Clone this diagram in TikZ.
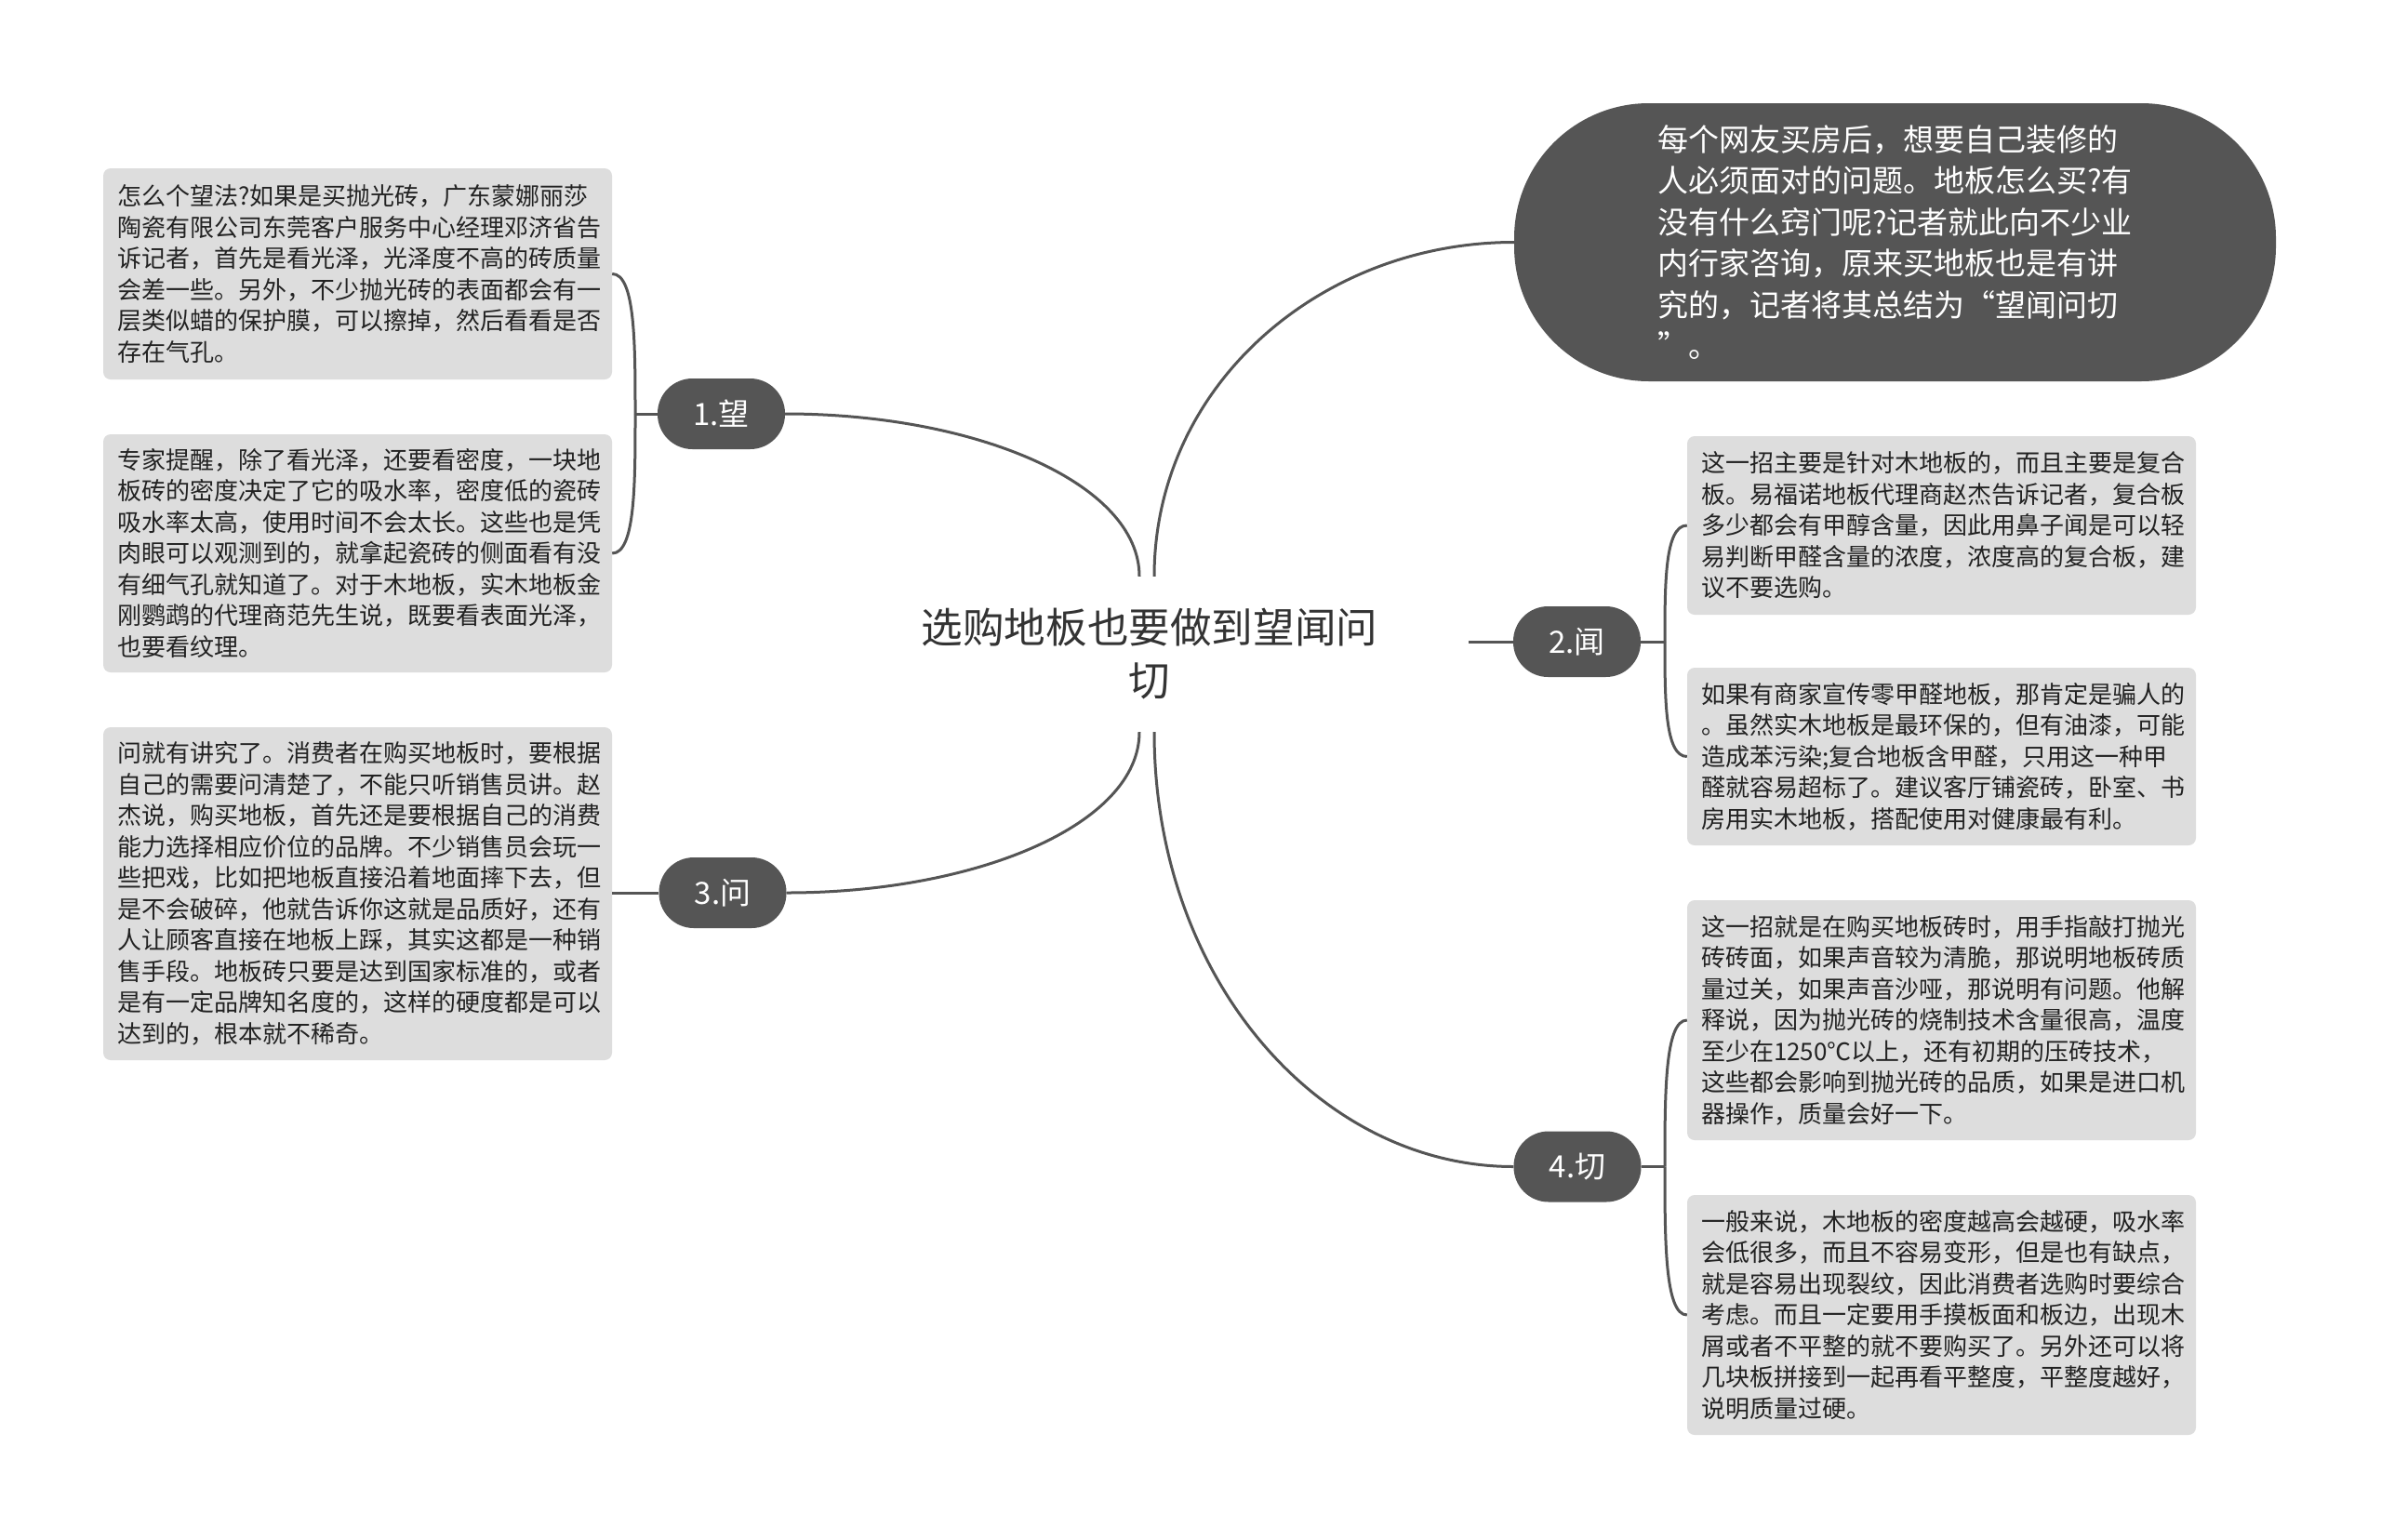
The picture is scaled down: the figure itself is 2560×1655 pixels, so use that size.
\documentclass[tikz,border=0pt]{standalone}
\usepackage{fontspec}
\setmainfont{Noto Sans CJK SC}
\definecolor{darkfill}{HTML}{555555}
\definecolor{leafgray}{HTML}{DDDDDD}
\definecolor{linegray}{HTML}{555555}
\definecolor{titletext}{HTML}{333333}
\definecolor{leaftext}{HTML}{222222}
\tikzset{
  leafbox/.style={fill=leafgray, rounded corners=8pt, inner xsep=15pt, inner ysep=0pt,
    text width=517pt, minimum width=547pt, align=left, text=leaftext,
    font=\fontsize{26}{33.5}\selectfont},
  topicbox/.style={fill=darkfill, text=white, rounded corners=37.5pt, minimum width=137pt,
    minimum height=76pt, inner sep=0pt, font=\fontsize{33}{40}\selectfont},
  introbox/.style={fill=darkfill, text=white, rounded corners=145pt, minimum width=819pt,
    minimum height=299pt, inner sep=0pt, align=left, font=\fontsize{33}{44.4}\selectfont},
  titlebox/.style={text=titletext, minimum width=686pt, minimum height=167pt, inner sep=0pt,
    align=center, font=\fontsize{44.6}{57}\selectfont},
  conn/.style={draw=linegray, line width=3pt}
}
\begin{document}
\begin{tikzpicture}[x=1pt,y=-1pt]
\useasboundingbox[fill=white] (0,0) rectangle (2560,1655);

% central title
\node[titlebox] (title) at (1236,703.5) {选购地板也要做到望闻问\\切};

% intro
\node[introbox] (intro) at (2037.5,260.5) {每个网友买房后，想要自己装修的\\人必须面对的问题。地板怎么买?有\\没有什么窍门呢?记者就此向不少业\\内行家咨询，原来买地板也是有讲\\究的，记者将其总结为“望闻问切\\”。};

% topics
\node[topicbox] (w1) at (775.5,445) {1.望};
\node[topicbox] (w2) at (1695.5,690) {2.闻};
\node[topicbox] (w3) at (777,960) {3.问};
\node[topicbox] (w4) at (1696,1254.5) {4.切};

% leaves
\node[leafbox, minimum height=227pt] (L1) at (384.5,294.5) {怎么个望法?如果是买抛光砖，广东蒙娜丽莎\\陶瓷有限公司东莞客户服务中心经理邓济省告\\诉记者，首先是看光泽，光泽度不高的砖质量\\会差一些。另外，不少抛光砖的表面都会有一\\层类似蜡的保护膜，可以擦掉，然后看看是否\\存在气孔。};
\node[leafbox, minimum height=256pt] (L2) at (384.5,595) {专家提醒，除了看光泽，还要看密度，一块地\\板砖的密度决定了它的吸水率，密度低的瓷砖\\吸水率太高，使用时间不会太长。这些也是凭\\肉眼可以观测到的，就拿起瓷砖的侧面看有没\\有细气孔就知道了。对于木地板，实木地板金\\刚鹦鹉的代理商范先生说，既要看表面光泽，\\也要看纹理。};
\node[leafbox, minimum height=358pt] (L3) at (384.5,961) {问就有讲究了。消费者在购买地板时，要根据\\自己的需要问清楚了，不能只听销售员讲。赵\\杰说，购买地板，首先还是要根据自己的消费\\能力选择相应价位的品牌。不少销售员会玩一\\些把戏，比如把地板直接沿着地面摔下去，但\\是不会破碎，他就告诉你这就是品质好，还有\\人让顾客直接在地板上踩，其实这都是一种销\\售手段。地板砖只要是达到国家标准的，或者\\是有一定品牌知名度的，这样的硬度都是可以\\达到的，根本就不稀奇。};
\node[leafbox, minimum height=192pt] (R1) at (2087.5,565) {这一招主要是针对木地板的，而且主要是复合\\板。易福诺地板代理商赵杰告诉记者，复合板\\多少都会有甲醇含量，因此用鼻子闻是可以轻\\易判断甲醛含量的浓度，浓度高的复合板，建\\议不要选购。};
\node[leafbox, minimum height=191pt] (R2) at (2087.5,813.5) {如果有商家宣传零甲醛地板，那肯定是骗人的\\。虽然实木地板是最环保的，但有油漆，可能\\造成苯污染;复合地板含甲醛，只用这一种甲\\醛就容易超标了。建议客厅铺瓷砖，卧室、书\\房用实木地板，搭配使用对健康最有利。};
\node[leafbox, minimum height=258pt] (R3) at (2087.5,1097) {这一招就是在购买地板砖时，用手指敲打抛光\\砖砖面，如果声音较为清脆，那说明地板砖质\\量过关，如果声音沙哑，那说明有问题。他解\\释说，因为抛光砖的烧制技术含量很高，温度\\至少在1250℃以上，还有初期的压砖技术，\\这些都会影响到抛光砖的品质，如果是进口机\\器操作，质量会好一下。};
\node[leafbox, minimum height=258pt] (R4) at (2087.5,1414) {一般来说，木地板的密度越高会越硬，吸水率\\会低很多，而且不容易变形，但是也有缺点，\\就是容易出现裂纹，因此消费者选购时要综合\\考虑。而且一定要用手摸板面和板边，出现木\\屑或者不平整的就不要购买了。另外还可以将\\几块板拼接到一起再看平整度，平整度越好，\\说明质量过硬。};

% title anchor points
\coordinate (tNW) at ([xshift=-11pt]title.north);
\coordinate (tNE) at ([xshift=5pt]title.north);
\coordinate (tSW) at ([xshift=-11pt]title.south);
\coordinate (tSE) at ([xshift=5pt]title.south);

% main connectors
\draw[conn] (tNW) .. controls (1225,520) and (1050,445) .. (w1.east);
\draw[conn] (tNE) .. controls (1241,415) and (1419,260.5) .. (intro.west);
\draw[conn] (tSW) .. controls (1225,886) and (1051,960) .. (w3.east);
\draw[conn] (tSE) .. controls (1241,1053) and (1419,1254.5) .. (w4.west);
\draw[conn] (title.east |- w2) -- (w2.west);

% leaf connectors: 1.望
\coordinate (b1) at (683,445);
\draw[conn] (w1.west) -- (b1);
\draw[conn] (b1) .. controls (683,370) and (683,294.5) .. (L1.east);
\draw[conn] (b1) .. controls (683,520) and (683,595) .. (L2.east);
% 3.问
\draw[conn] (w3.west) -- (w3.west -| L3.east);
% 2.闻
\coordinate (b2) at (1790,690);
\draw[conn] (w2.east) -- (b2);
\draw[conn] (b2) .. controls (1790,627) and (1790,565) .. (R1.west);
\draw[conn] (b2) .. controls (1790,752) and (1790,813.5) .. (R2.west);
% 4.切
\coordinate (b4) at (1790,1254.5);
\draw[conn] (w4.east) -- (b4);
\draw[conn] (b4) .. controls (1790,1176) and (1790,1097) .. (R3.west);
\draw[conn] (b4) .. controls (1790,1334) and (1790,1414) .. (R4.west);
\end{tikzpicture}
\end{document}
